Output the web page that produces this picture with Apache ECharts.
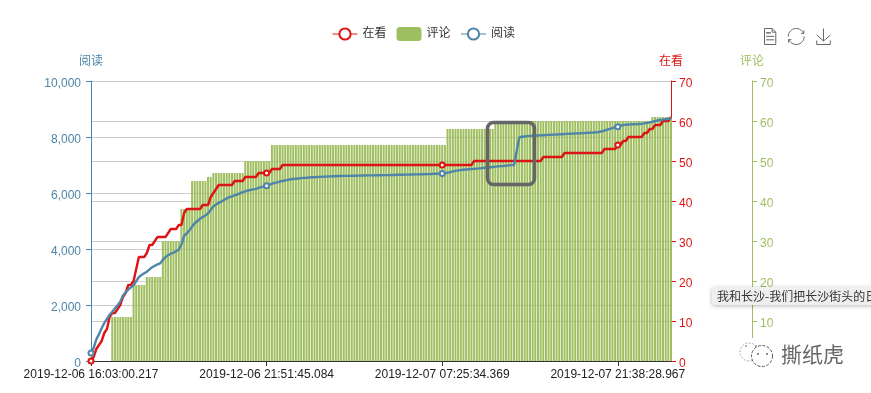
<!DOCTYPE html>
<html>
<head>
<meta charset="utf-8">
<style>html,body{margin:0;padding:0;background:#fff;overflow:hidden}#main{width:871px;height:393px}</style>
<script src="https://cdn.jsdelivr.net/npm/echarts@6/dist/echarts.min.js"></script>
</head>
<body>
<div id="main"></div>
<script>
var tickLabels = ['2019-12-06 16:03:00.217', '2019-12-06 21:51:45.084', '2019-12-07 07:25:34.369', '2019-12-07 21:38:28.967'];
var tickStep = 66;
var legendNames = ['在看', '评论', '阅读'];

// 在看
var watching = [
  0,1,3,4,5,7,8,11,12,12,
  13,14,16,17,19,19,20,23,26,26,
  26,27,29,29,30,31,31,31,31,32,
  33,33,33,34,34,37,38,38,38,38,
  38,38,39,39,39,41,42,43,44,44,
  44,44,44,44,45,45,45,45,46,46,
  46,46,46,47,47,47,47,47,48,48,
  48,48,49,49,49,49,49,49,49,49,
  49,49,49,49,49,49,49,49,49,49,
  49,49,49,49,49,49,49,49,49,49,
  49,49,49,49,49,49,49,49,49,49,
  49,49,49,49,49,49,49,49,49,49,
  49,49,49,49,49,49,49,49,49,49,
  49,49,49,49,49,49,49,49,49,49,
  49,49,49,49,50,50,50,50,50,50,
  50,50,50,50,50,50,50,50,50,50,
  50,50,50,50,50,50,50,50,50,50,
  51,51,51,51,51,51,51,51,52,52,
  52,52,52,52,52,52,52,52,52,52,
  52,52,52,53,53,53,53,53,54,54,
  55,55,56,56,56,56,56,56,57,57,
  58,58,59,59,59,60,60,60,61
];

// 评论
var comments = [
  0,0,0,0,0,0,0,0,11,11,
  11,11,11,11,11,11,19,19,19,19,
  19,21,21,21,21,21,21,30,30,30,
  30,30,30,30,38,38,38,38,45,45,
  45,45,45,45,46,46,47,47,47,47,
  47,47,47,47,47,47,47,47,50,50,
  50,50,50,50,50,50,50,50,54,54,
  54,54,54,54,54,54,54,54,54,54,
  54,54,54,54,54,54,54,54,54,54,
  54,54,54,54,54,54,54,54,54,54,
  54,54,54,54,54,54,54,54,54,54,
  54,54,54,54,54,54,54,54,54,54,
  54,54,54,54,54,54,54,54,54,54,
  54,54,54,54,58,58,58,58,58,58,
  58,58,58,58,58,58,58,58,58,58,
  58,58,60,60,60,60,60,60,60,60,
  60,60,60,60,60,60,60,60,60,60,
  60,60,60,60,60,60,60,60,60,60,
  60,60,60,60,60,60,60,60,60,60,
  60,60,60,60,60,60,60,60,60,60,
  60,60,60,60,60,60,60,60,60,60,
  60,61,61,61,61,61,61,61,61
];

// 阅读
var reads = [
  290,470,770,960,1170,1360,1500,1650,1760,1880,
  1990,2120,2340,2450,2550,2630,2700,2850,3000,3070,
  3130,3190,3270,3350,3400,3450,3490,3610,3710,3780,
  3830,3870,3920,3980,4160,4470,4560,4670,4800,4920,
  5000,5080,5140,5200,5270,5400,5520,5590,5650,5690,
  5750,5810,5850,5880,5920,5950,5990,6030,6060,6090,
  6110,6130,6150,6180,6210,6240,6260,6290,6330,6360,
  6380,6410,6430,6450,6470,6490,6500,6510,6520,6530,
  6540,6545,6555,6560,6565,6570,6575,6580,6585,6590,
  6595,6600,6600,6605,6605,6610,6610,6610,6615,6615,
  6620,6620,6625,6625,6630,6630,6630,6635,6635,6635,
  6640,6640,6640,6645,6645,6650,6650,6650,6655,6655,
  6660,6660,6665,6665,6670,6670,6675,6675,6680,6685,
  6690,6695,6700,6710,6725,6745,6770,6790,6810,6820,
  6830,6840,6850,6855,6860,6870,6880,6890,6900,6910,
  6920,6930,6940,6950,6960,6965,6975,6985,6995,7000,
  7500,7990,8010,8020,8030,8040,8045,8050,8055,8060,
  8065,8070,8075,8080,8085,8090,8095,8100,8105,8110,
  8115,8120,8125,8130,8135,8140,8145,8150,8155,8160,
  8170,8185,8205,8230,8260,8290,8320,8350,8370,8400,
  8430,8440,8445,8450,8455,8460,8465,8470,8485,8505,
  8525,8545,8570,8590,8605,8620,8635,8650,8660
];

var categories = reads.map(function (v, i) {
  return i % tickStep === 0 ? tickLabels[i / tickStep] : String(i);
});

var fontName = '"Liberation Sans", "Noto Sans CJK SC", sans-serif';
var red = '#dc1414';
var green = '#9fbe5f';
var blue = '#4f85a8';

var myChart = echarts.init(document.getElementById('main'));
var option = {
  animation: false,
  textStyle: { fontFamily: fontName },
  legend: {
    data: legendNames,
    top: 27,
    left: 332,
    padding: 0,
    itemGap: 10,
    lineStyle: { width: 1 },
    itemStyle: { borderWidth: 1 },
    textStyle: { color: '#333', fontSize: 12 }
  },
  toolbox: {
    left: 762,
    top: 26,
    padding: 0,
    itemSize: 16,
    itemGap: 7.5,
    showTitle: false,
    iconStyle: { borderColor: '#666' },
    feature: {
      dataView: { readOnly: false },
      restore: {},
      saveAsImage: {}
    }
  },
  grid: { left: 91, right: 200, top: 81, bottom: 32 },
  xAxis: {
    type: 'category',
    boundaryGap: false,
    data: categories,
    axisTick: { interval: tickStep - 1, alignWithLabel: true },
    axisLine: { lineStyle: { color: '#333' } },
    axisLabel: { interval: tickStep - 1, color: '#222', fontSize: 12, margin: 8 }
  },
  yAxis: [
    {
      type: 'value', name: '阅读', position: 'left', min: 0, max: 10000, interval: 2000, nameGap: 13,
      nameTextStyle: { color: blue, fontSize: 12 },
      axisLine: { show: true, lineStyle: { color: blue } },
      axisTick: { show: true, lineStyle: { color: blue } },
      axisLabel: { color: blue, fontSize: 12, margin: 10, verticalAlign: 'top', lineHeight: 5 },
      splitLine: { lineStyle: { color: '#ccc' } }
    },
    {
      type: 'value', name: '在看', position: 'right', min: 0, max: 70, interval: 10, nameGap: 13,
      nameTextStyle: { color: red, fontSize: 12 },
      axisLine: { show: true, lineStyle: { color: red } },
      axisTick: { show: true, lineStyle: { color: red } },
      axisLabel: { color: red, fontSize: 12, verticalAlign: 'top', lineHeight: 5 },
      splitLine: { lineStyle: { color: '#ccc' } }
    },
    {
      type: 'value', name: '评论', position: 'right', offset: 81, min: 0, max: 70, interval: 10, nameGap: 13,
      nameTextStyle: { color: green, fontSize: 12 },
      axisLine: { show: true, lineStyle: { color: green } },
      axisTick: { show: true, lineStyle: { color: green } },
      axisLabel: { color: green, fontSize: 12, verticalAlign: 'top', lineHeight: 5 },
      splitLine: { show: false }
    }
  ],
  series: [
    {
      name: legendNames[0], type: 'line', yAxisIndex: 1, data: watching, z: 3,
      symbolSize: 5,
      itemStyle: { color: red, borderWidth: 1 },
      lineStyle: { color: red, width: 2.4 }
    },
    {
      name: legendNames[1], type: 'bar', yAxisIndex: 2, data: comments, z: 2,
      barWidth: 2,
      itemStyle: { color: green }
    },
    {
      name: legendNames[2], type: 'line', yAxisIndex: 0, data: reads, z: 4,
      symbolSize: 5,
      itemStyle: { color: blue, borderWidth: 1 },
      lineStyle: { color: blue, width: 2.4 }
    }
  ],
  graphic: [
    // 截图上的灰框
    { type: 'rect', z: 100, shape: { x: 487.5, y: 122.5, width: 47, height: 62, r: 6 },
      style: { fill: 'none', stroke: '#666', lineWidth: 3.5 } },
    // 残留的提示框
    { type: 'rect', z: 100, shape: { x: 712, y: 287, width: 170, height: 18, r: 3 },
      style: { fill: 'rgba(240,240,240,0.96)', shadowBlur: 4, shadowColor: 'rgba(0,0,0,0.3)', shadowOffsetY: 1 } },
    { type: 'text', z: 101, style: { x: 717, y: 290, text: '我和长沙-我们把长沙街头的日号', fill: '#333', font: '12px "Noto Sans CJK SC"' } },
    // 水印
    { type: 'rect', z: 100, shape: { x: 732, y: 338, width: 139, height: 55 }, style: { fill: '#fff' } },
    { type: 'circle', z: 101, shape: { cx: 749, cy: 352, r: 9 }, style: { fill: '#fff', stroke: '#aaa', lineWidth: 1, lineDash: [2, 1.5] } },
    { type: 'circle', z: 102, shape: { cx: 762, cy: 356, r: 10.5 }, style: { fill: '#fff', stroke: '#555', lineWidth: 1, lineDash: [3, 1.5] } },
    { type: 'circle', z: 103, shape: { cx: 746, cy: 346, r: 1 }, style: { fill: '#999' } },
    { type: 'circle', z: 103, shape: { cx: 756, cy: 346, r: 1 }, style: { fill: '#999' } },
    { type: 'circle', z: 103, shape: { cx: 758, cy: 354, r: 1 }, style: { fill: '#666' } },
    { type: 'circle', z: 103, shape: { cx: 767, cy: 354, r: 1 }, style: { fill: '#666' } },
    { type: 'text', z: 102, style: { x: 781, y: 344, text: '撕纸虎', fill: '#666', font: '21px "Noto Sans CJK SC"' } }
  ]
};
myChart.setOption(option);
</script>
</body>
</html>
